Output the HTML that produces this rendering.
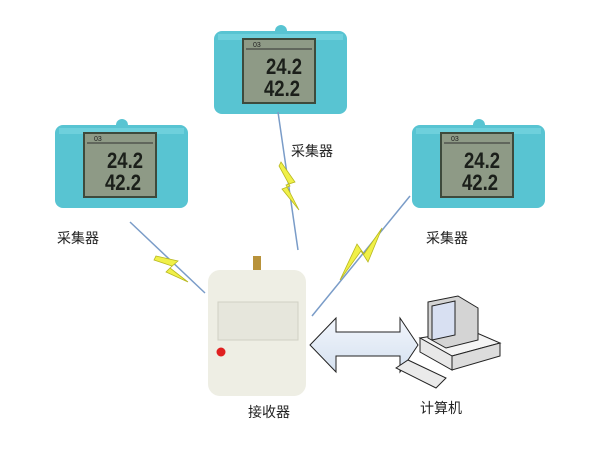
<!DOCTYPE html>
<html><head><meta charset="utf-8"><style>
body{margin:0;background:#fff;width:600px;height:450px;overflow:hidden}
text{font-family:"Liberation Sans","Noto Sans CJK SC",sans-serif;font-size:14px;fill:#222}
</style></head><body>
<svg width="600" height="450" viewBox="0 0 600 450">
<defs>
<g id="dev">
<circle cx="67" cy="3" r="6" fill="#58c4d2"/>
<rect x="0" y="3" width="133" height="83" rx="8" fill="#58c4d2"/>
<rect x="4" y="6" width="125" height="6" fill="#7dd8e2" opacity=".6"/>
<rect x="28" y="10" width="74" height="66" fill="#3e4a3c"/>
<rect x="30" y="12" width="70" height="62" fill="#8e9a86"/>
<line x1="32" y1="21" x2="98" y2="21" stroke="#333" stroke-width="1"/>
<text x="39" y="19" style="font-size:7px;fill:#222">03</text>
<text x="52" y="46" style="font-size:22px;fill:#1b1f1a;font-weight:bold" textLength="36" lengthAdjust="spacingAndGlyphs">24.2</text>
<text x="50" y="68" style="font-size:22px;fill:#1b1f1a;font-weight:bold" textLength="36" lengthAdjust="spacingAndGlyphs">42.2</text>
</g>
<linearGradient id="ag" x1="0" y1="0" x2="0" y2="1"><stop offset="0" stop-color="#f2f6fc"/><stop offset="1" stop-color="#d5e1f0"/></linearGradient>
</defs>
<use href="#dev" x="55" y="122"/>
<use href="#dev" x="214" y="28"/>
<use href="#dev" x="412" y="122"/>
<line x1="130" y1="222" x2="205" y2="293" stroke="#7a9cc8" stroke-width="1.5"/>
<polygon points="156,256 178,261 170,268 188,282 166,272 172,266 154,260" fill="#f0f048" stroke="#b8b820" stroke-width=".8"/>
<line x1="278" y1="112" x2="298" y2="250" stroke="#7a9cc8" stroke-width="1.5"/>
<polygon points="281,162 295,182 286,185 299,210 282,189 290,186 279,166" fill="#f0f048" stroke="#b8b820" stroke-width=".8"/>
<line x1="410" y1="196" x2="312" y2="316" stroke="#7a9cc8" stroke-width="1.5"/>
<polygon points="382,228 368,262 361,251 340,280 357,244 364,254" fill="#f0f048" stroke="#b8b820" stroke-width=".8"/>
<rect x="253" y="256" width="8" height="16" fill="#b8923a"/>
<rect x="208" y="270" width="98" height="126" rx="12" fill="#eeeee4"/>
<rect x="218" y="302" width="80" height="38" fill="#e6e6dc" stroke="#d0d0c4"/>
<circle cx="221" cy="352" r="4.5" fill="#e02020"/>
<polygon points="310,345 336,318 336,332 400,332 400,318 418,345 400,372 400,356 336,356 336,372" fill="url(#ag)" stroke="#222" stroke-width="1"/>
<polygon points="420,338 470,330 500,343 452,356" fill="#f4f4f4" stroke="#222"/>
<polygon points="420,338 452,356 452,370 420,352" fill="#e8e8e8" stroke="#222"/>
<polygon points="452,356 500,343 500,356 452,370" fill="#dcdcdc" stroke="#222"/>
<polygon points="428,302 458,296 478,308 478,340 446,348 428,338" fill="#d4d4d4" stroke="#222"/>
<polygon points="432,306 455,301 455,335 432,340" fill="#d8e0f2" stroke="#222"/>
<polygon points="396,368 408,360 446,378 436,388" fill="#eaeaea" stroke="#222"/>
<text x="248" y="417">接收器</text>
<text x="420" y="413">计算机</text>
<text x="291" y="156">采集器</text>
<text x="57" y="243">采集器</text>
<text x="426" y="243">采集器</text>
</svg>
</body></html>
